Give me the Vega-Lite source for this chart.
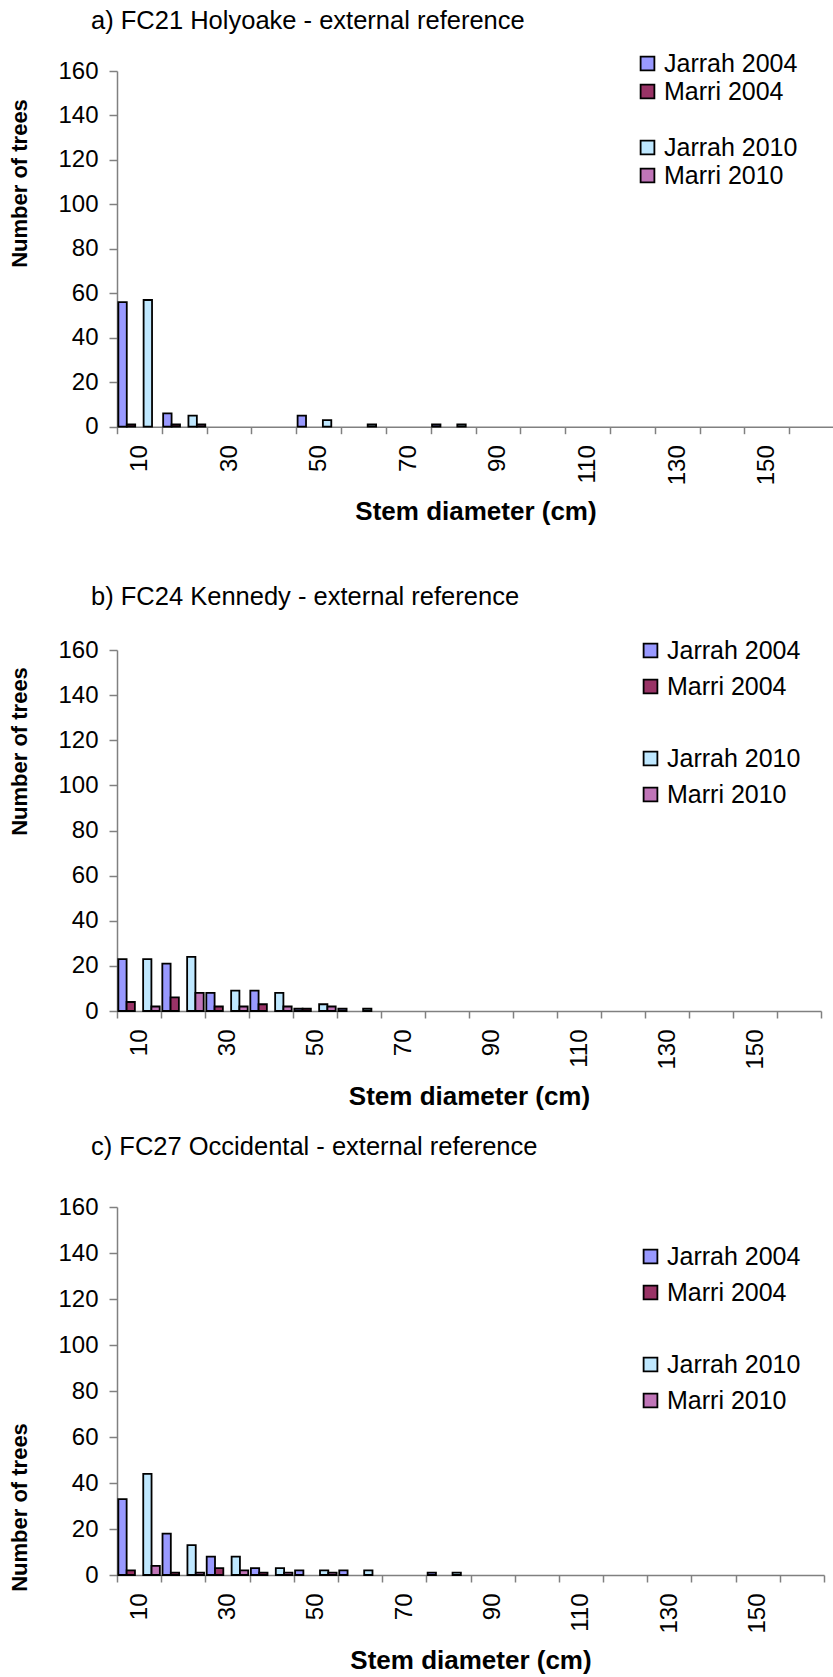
{
  "$schema": "https://vega.github.io/schema/vega-lite/v6.json",
  "background": "white",
  "padding": {"left": 8, "right": 0, "top": 8, "bottom": 0},
  "bounds": "flush",
  "spacing": 0,
  "config": {
    "font": "Liberation Sans",
    "view": {"stroke": null},
    "axis": {"labelFont": "Liberation Sans", "titleFont": "Liberation Sans", "labelColor": "black", "titleColor": "black", "domainColor": "#808080", "tickColor": "#808080", "domainWidth": 1.5, "tickWidth": 1.5, "grid": false, "labelOverlap": false},
    "title": {"font": "Liberation Sans", "fontWeight": "normal", "color": "black", "fontSize": 25.5, "anchor": "start", "frame": "group"}
  },
  "datasets": {
    "a": [
      {"diameter": 10, "series": "Jarrah 2004", "trees": 56},
      {"diameter": 10, "series": "Marri 2004", "trees": 1},
      {"diameter": 10, "series": "Jarrah 2010", "trees": 57},
      {"diameter": 20, "series": "Jarrah 2004", "trees": 6},
      {"diameter": 20, "series": "Marri 2004", "trees": 1},
      {"diameter": 20, "series": "Jarrah 2010", "trees": 5},
      {"diameter": 20, "series": "Marri 2010", "trees": 1},
      {"diameter": 50, "series": "Jarrah 2004", "trees": 5},
      {"diameter": 50, "series": "Jarrah 2010", "trees": 3},
      {"diameter": 60, "series": "Jarrah 2010", "trees": 1},
      {"diameter": 80, "series": "Jarrah 2004", "trees": 1},
      {"diameter": 80, "series": "Jarrah 2010", "trees": 1}
    ],
    "b": [
      {"diameter": 10, "series": "Jarrah 2004", "trees": 23},
      {"diameter": 10, "series": "Marri 2004", "trees": 4},
      {"diameter": 10, "series": "Jarrah 2010", "trees": 23},
      {"diameter": 10, "series": "Marri 2010", "trees": 2},
      {"diameter": 20, "series": "Jarrah 2004", "trees": 21},
      {"diameter": 20, "series": "Marri 2004", "trees": 6},
      {"diameter": 20, "series": "Jarrah 2010", "trees": 24},
      {"diameter": 20, "series": "Marri 2010", "trees": 8},
      {"diameter": 30, "series": "Jarrah 2004", "trees": 8},
      {"diameter": 30, "series": "Marri 2004", "trees": 2},
      {"diameter": 30, "series": "Jarrah 2010", "trees": 9},
      {"diameter": 30, "series": "Marri 2010", "trees": 2},
      {"diameter": 40, "series": "Jarrah 2004", "trees": 9},
      {"diameter": 40, "series": "Marri 2004", "trees": 3},
      {"diameter": 40, "series": "Jarrah 2010", "trees": 8},
      {"diameter": 40, "series": "Marri 2010", "trees": 2},
      {"diameter": 50, "series": "Jarrah 2004", "trees": 1},
      {"diameter": 50, "series": "Marri 2004", "trees": 1},
      {"diameter": 50, "series": "Jarrah 2010", "trees": 3},
      {"diameter": 50, "series": "Marri 2010", "trees": 2},
      {"diameter": 60, "series": "Jarrah 2004", "trees": 1},
      {"diameter": 60, "series": "Jarrah 2010", "trees": 1}
    ],
    "c": [
      {"diameter": 10, "series": "Jarrah 2004", "trees": 33},
      {"diameter": 10, "series": "Marri 2004", "trees": 2},
      {"diameter": 10, "series": "Jarrah 2010", "trees": 44},
      {"diameter": 10, "series": "Marri 2010", "trees": 4},
      {"diameter": 20, "series": "Jarrah 2004", "trees": 18},
      {"diameter": 20, "series": "Marri 2004", "trees": 1},
      {"diameter": 20, "series": "Jarrah 2010", "trees": 13},
      {"diameter": 20, "series": "Marri 2010", "trees": 1},
      {"diameter": 30, "series": "Jarrah 2004", "trees": 8},
      {"diameter": 30, "series": "Marri 2004", "trees": 3},
      {"diameter": 30, "series": "Jarrah 2010", "trees": 8},
      {"diameter": 30, "series": "Marri 2010", "trees": 2},
      {"diameter": 40, "series": "Jarrah 2004", "trees": 3},
      {"diameter": 40, "series": "Marri 2004", "trees": 1},
      {"diameter": 40, "series": "Jarrah 2010", "trees": 3},
      {"diameter": 40, "series": "Marri 2010", "trees": 1},
      {"diameter": 50, "series": "Jarrah 2004", "trees": 2},
      {"diameter": 50, "series": "Jarrah 2010", "trees": 2},
      {"diameter": 50, "series": "Marri 2010", "trees": 1},
      {"diameter": 60, "series": "Jarrah 2004", "trees": 2},
      {"diameter": 60, "series": "Jarrah 2010", "trees": 2},
      {"diameter": 80, "series": "Jarrah 2004", "trees": 1},
      {"diameter": 80, "series": "Jarrah 2010", "trees": 1}
    ]
  },
  "vconcat": [
    {
      "width": 717,
      "height": 355.7,
      "title": {"text": "a) FC21 Holyoake - external reference", "dx": -26, "offset": 17},
      "data": {"name": "a"},
      "mark": {"type": "bar", "stroke": "black", "strokeWidth": 1.8},
      "encoding": {
        "x": {"field": "diameter", "type": "ordinal", "scale": {"domain": [10,20,30,40,50,60,70,80,90,100,110,120,130,140,150,160], "paddingInner": 0, "paddingOuter": 0},
          "axis": {"title": "Stem diameter (cm)", "titleFontSize": 26, "titleFontWeight": "bold", "labelAngle": 270, "labelFontSize": 24, "labelExpr": "datum.value % 20 == 10 ? datum.label : ''", "tickBand": "extent", "tickSize": 7, "labelPadding": 11, "titlePadding": 14}},
        "xOffset": {"field": "series", "type": "nominal", "scale": {"domain": ["Jarrah 2004", "Marri 2004", " ", "Jarrah 2010", "Marri 2010"], "paddingInner": 0, "paddingOuter": 0.16}},
        "y": {"field": "trees", "type": "quantitative", "scale": {"domain": [0, 160], "nice": false},
          "axis": {"title": "Number of trees", "values": [0,20,40,60,80,100,120,140,160], "labelFontSize": 24, "titleFontSize": 22, "titleFontWeight": "bold", "tickSize": 8, "labelPadding": 11, "titlePadding": 26, "titleY": 112}},
        "fill": {"field": "series", "type": "nominal",
          "scale": {"domain": ["Jarrah 2004", "Marri 2004", " ", "Jarrah 2010", "Marri 2010"], "range": ["#9999FF", "#993366", "transparent", "#BFE8FF", "#C075B8"]},
          "legend": {"orient": "none", "legendX": 518, "legendY": -20, "title": null, "symbolType": "square", "symbolSize": 190, "symbolStrokeWidth": 1.8, "symbolStrokeColor": "black", "labelFontSize": 25, "labelFont": "Liberation Sans", "labelColor": "black", "rowPadding": 2, "labelOffset": 4, "padding": 0, "labelLimit": 0,
            "encode": {"symbols": {"update": {"stroke": {"signal": "datum.value === ' ' ? 'transparent' : 'black'"}}}}}}
      }
    },
    {"width": 10, "height": 222.3, "data": {"values": []}, "mark": "point"},
    {
      "width": 704,
      "height": 361,
      "title": {"text": "b) FC24 Kennedy - external reference", "dx": -26, "offset": 28},
      "data": {"name": "b"},
      "mark": {"type": "bar", "stroke": "black", "strokeWidth": 1.8},
      "encoding": {
        "x": {"field": "diameter", "type": "ordinal", "scale": {"domain": [10,20,30,40,50,60,70,80,90,100,110,120,130,140,150,160], "paddingInner": 0, "paddingOuter": 0},
          "axis": {"title": "Stem diameter (cm)", "titleFontSize": 26, "titleFontWeight": "bold", "labelAngle": 270, "labelFontSize": 24, "labelExpr": "datum.value % 20 == 10 ? datum.label : ''", "tickBand": "extent", "tickSize": 7, "labelPadding": 11, "titlePadding": 14}},
        "xOffset": {"field": "series", "type": "nominal", "scale": {"domain": ["Jarrah 2004", "Marri 2004", " ", "Jarrah 2010", "Marri 2010"], "paddingInner": 0, "paddingOuter": 0.16}},
        "y": {"field": "trees", "type": "quantitative", "scale": {"domain": [0, 160], "nice": false},
          "axis": {"title": "Number of trees", "values": [0,20,40,60,80,100,120,140,160], "labelFontSize": 24, "titleFontSize": 22, "titleFontWeight": "bold", "tickSize": 8, "labelPadding": 11, "titlePadding": 26, "titleY": 101}},
        "fill": {"field": "series", "type": "nominal",
          "scale": {"domain": ["Jarrah 2004", "Marri 2004", " ", "Jarrah 2010", "Marri 2010"], "range": ["#9999FF", "#993366", "transparent", "#BFE8FF", "#C075B8"]},
          "legend": {"orient": "none", "legendX": 521, "legendY": -12, "title": null, "symbolType": "square", "symbolSize": 190, "symbolStrokeWidth": 1.8, "symbolStrokeColor": "black", "labelFontSize": 25, "labelFont": "Liberation Sans", "labelColor": "black", "rowPadding": 10, "labelOffset": 4, "padding": 0, "labelLimit": 0,
            "encode": {"symbols": {"update": {"stroke": {"signal": "datum.value === ' ' ? 'transparent' : 'black'"}}}}}}
      }
    },
    {"width": 10, "height": 195.7, "data": {"values": []}, "mark": "point"},
    {
      "width": 707,
      "height": 368,
      "title": {"text": "c) FC27 Occidental - external reference", "dx": -26, "offset": 35},
      "data": {"name": "c"},
      "mark": {"type": "bar", "stroke": "black", "strokeWidth": 1.8},
      "encoding": {
        "x": {"field": "diameter", "type": "ordinal", "scale": {"domain": [10,20,30,40,50,60,70,80,90,100,110,120,130,140,150,160], "paddingInner": 0, "paddingOuter": 0},
          "axis": {"title": "Stem diameter (cm)", "titleFontSize": 26, "titleFontWeight": "bold", "labelAngle": 270, "labelFontSize": 24, "labelExpr": "datum.value % 20 == 10 ? datum.label : ''", "tickBand": "extent", "tickSize": 7, "labelPadding": 11, "titlePadding": 14}},
        "xOffset": {"field": "series", "type": "nominal", "scale": {"domain": ["Jarrah 2004", "Marri 2004", " ", "Jarrah 2010", "Marri 2010"], "paddingInner": 0, "paddingOuter": 0.16}},
        "y": {"field": "trees", "type": "quantitative", "scale": {"domain": [0, 160], "nice": false},
          "axis": {"title": "Number of trees", "values": [0,20,40,60,80,100,120,140,160], "labelFontSize": 24, "titleFontSize": 22, "titleFontWeight": "bold", "tickSize": 8, "labelPadding": 11, "titlePadding": 26, "titleY": 300}},
        "fill": {"field": "series", "type": "nominal",
          "scale": {"domain": ["Jarrah 2004", "Marri 2004", " ", "Jarrah 2010", "Marri 2010"], "range": ["#9999FF", "#993366", "transparent", "#BFE8FF", "#C075B8"]},
          "legend": {"orient": "none", "legendX": 521, "legendY": 37, "title": null, "symbolType": "square", "symbolSize": 190, "symbolStrokeWidth": 1.8, "symbolStrokeColor": "black", "labelFontSize": 25, "labelFont": "Liberation Sans", "labelColor": "black", "rowPadding": 10, "labelOffset": 4, "padding": 0, "labelLimit": 0,
            "encode": {"symbols": {"update": {"stroke": {"signal": "datum.value === ' ' ? 'transparent' : 'black'"}}}}}}
      }
    }
  ],
  "resolve": {"scale": {"fill": "independent", "x": "independent", "y": "independent", "xOffset": "independent"}, "legend": {"fill": "independent"}}
}
